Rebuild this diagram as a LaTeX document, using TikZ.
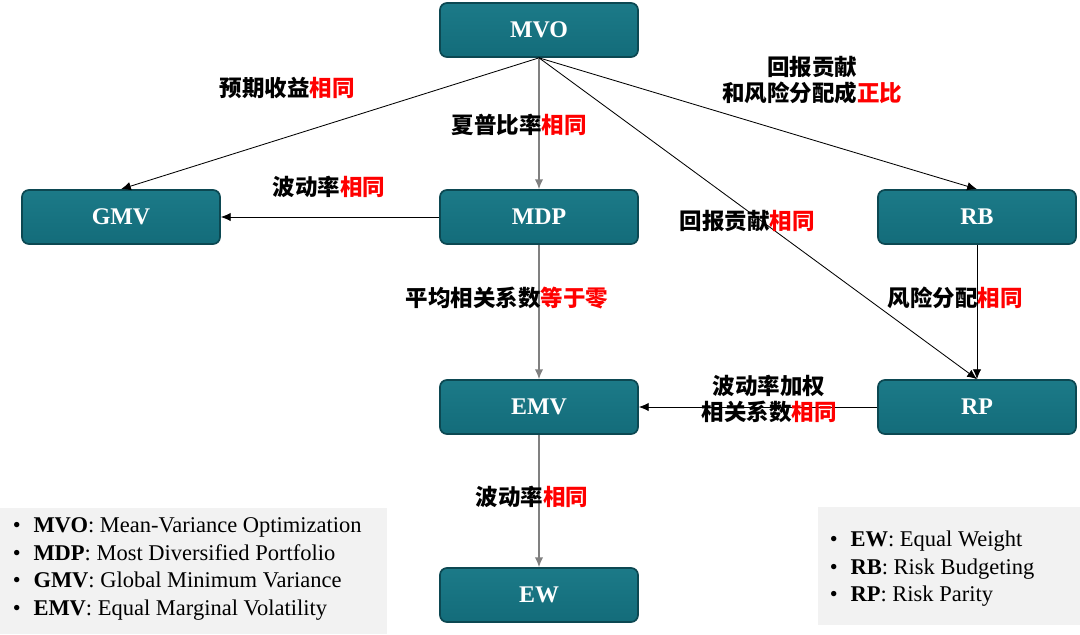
\documentclass[tikz,border=0pt]{standalone}
\usepackage{fontspec}
\usepackage{xcolor}
\setmainfont{Liberation Serif}
\newfontfamily\cjk{Noto Sans CJK SC}
\usetikzlibrary{arrows.meta}
\definecolor{boxteal}{RGB}{19,108,122}
\definecolor{boxtop}{RGB}{28,122,136}
\definecolor{boxedge}{RGB}{12,72,82}
\definecolor{legendgray}{RGB}{242,242,242}
\definecolor{linegray}{RGB}{128,128,128}

\begin{document}
\begin{tikzpicture}[x=0.025cm,y=-0.025cm,>={Latex[length=7pt,width=6pt]},
  box/.style={draw=boxedge,line width=1.2pt,top color=boxtop,bottom color=boxteal,rounded corners=5pt,minimum width=4.95cm,minimum height=1.35cm,text=white,font=\bfseries\fontsize{17}{20}\selectfont},
  lbl/.style={font=\cjk\bfseries\fontsize{16}{19}\selectfont,align=center},
  link/.style={->,line width=0.6pt},
  glink/.style={->,line width=1pt,linegray},
  keytext/.style={anchor=west,align=left,font=\fontsize{16}{19.5}\selectfont}]
\useasboundingbox (0,0) rectangle (1080,634);
% legend panels
\fill[legendgray] (0,508) rectangle (387,634);
\fill[legendgray] (818,507) rectangle (1080,625);
\node[keytext] (leftkey) at (8,569)
  {\textbullet\hspace{9pt}\textbf{MVO}: Mean-Variance Optimization\\
   \textbullet\hspace{9pt}\textbf{MDP}: Most Diversified Portfolio\\
   \textbullet\hspace{9pt}\textbf{GMV}: Global Minimum Variance\\
   \textbullet\hspace{9pt}\textbf{EMV}: Equal Marginal Volatility};
\node[keytext] (rightkey) at (825,569)
  {\textbullet\hspace{9pt}\textbf{EW}: Equal Weight\\
   \textbullet\hspace{9pt}\textbf{RB}: Risk Budgeting\\
   \textbullet\hspace{9pt}\textbf{RP}: Risk Parity};
% portfolios
\node[box] (mvo) at (539,30) {MVO};
\node[box] (gmv) at (121,217) {GMV};
\node[box] (mdp) at (539,217) {MDP};
\node[box] (rb) at (977,217) {RB};
\node[box] (emv) at (539,407) {EMV};
\node[box] (rp) at (977,407) {RP};
\node[box] (ew) at (539,595) {EW};
% links
\draw[link] (mvo.south)--(gmv.north);
\draw[glink] (mvo.south)--(mdp.north);
\draw[link] (mvo.south)--(rb.north);
\draw[link] (mvo.south)--(rp.north);
\draw[link] (mdp.west)--(gmv.east);
\draw[glink] (mdp.south)--(emv.north);
\draw[link] (rb.south)--(rp.north);
\draw[link] (rp.west)--(emv.east);
\draw[glink] (emv.south)--(ew.north);
% conditions
\node[lbl] (l1) at (287,88) {预期收益\textcolor{red}{相同}};
\node[lbl] (l2) at (519,125) {夏普比率\textcolor{red}{相同}};
\node[lbl] (l3) at (329,187) {波动率\textcolor{red}{相同}};
\node[lbl] (l4) at (812,80) {回报贡献\\和风险分配成\textcolor{red}{正比}};
\node[lbl] (l5) at (747,221) {回报贡献\textcolor{red}{相同}};
\node[lbl] (l6) at (507,298) {平均相关系数\textcolor{red}{等于零}};
\node[lbl] (l7) at (955,298) {风险分配\textcolor{red}{相同}};
\node[lbl] (l8) at (769,399) {波动率加权\\相关系数\textcolor{red}{相同}};
\node[lbl] (l9) at (532,497) {波动率\textcolor{red}{相同}};
\end{tikzpicture}
\end{document}
